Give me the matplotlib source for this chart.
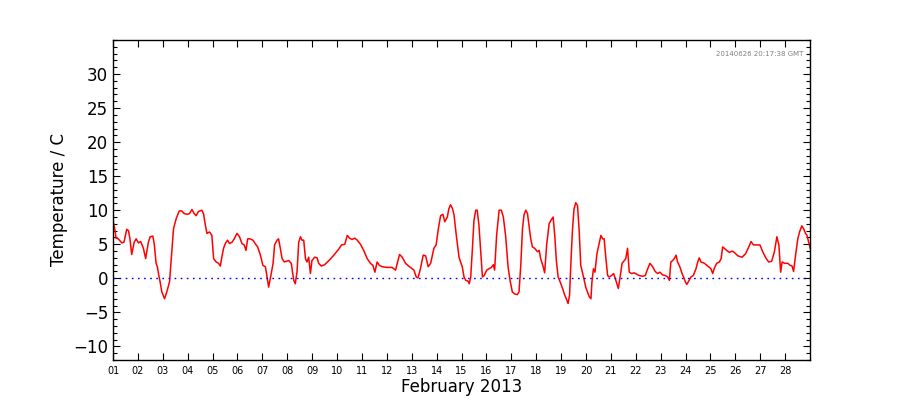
import datetime as dt
import numpy as np
import matplotlib
matplotlib.use("Agg")
import matplotlib.pyplot as plt
import matplotlib.dates as mdates
from matplotlib.ticker import MultipleLocator, FixedLocator

# fractional days since 2013-02-01 00:00 and temperature (C)
days = [0.01, 0.08, 0.12, 0.21, 0.35, 0.44, 0.55, 0.62, 0.68, 0.75, 0.85, 0.93,
        1.02, 1.11, 1.22, 1.31, 1.42, 1.49, 1.60, 1.66, 1.73, 1.78, 1.84, 1.89,
        1.96, 2.07, 2.16, 2.27, 2.33, 2.43, 2.54, 2.66, 2.76, 2.86, 2.99, 3.07,
        3.17, 3.26, 3.34, 3.43, 3.57, 3.64, 3.70, 3.77, 3.88, 3.97, 4.04, 4.14,
        4.24, 4.31, 4.37, 4.44, 4.51, 4.60, 4.68, 4.78, 4.87, 4.98, 5.08, 5.18,
        5.27, 5.34, 5.41, 5.49, 5.62, 5.71, 5.81, 5.92, 6.02, 6.12, 6.18, 6.25,
        6.34, 6.43, 6.49, 6.59, 6.65, 6.72, 6.79, 6.88,
        7.06, 7.16, 7.26, 7.32, 7.39, 7.46, 7.53, 7.59, 7.66, 7.73, 7.79, 7.86,
        7.93, 7.99, 8.10, 8.20, 8.26, 8.37, 8.50, 8.67, 8.87, 9.07, 9.18, 9.31,
        9.41, 9.50, 9.60, 9.71, 9.81, 9.94, 10.07, 10.21, 10.34, 10.44, 10.52,
        10.61, 10.70, 10.81, 11.01, 11.21, 11.35, 11.42, 11.51, 11.62, 11.75,
        11.91, 12.09, 12.18, 12.25, 12.35, 12.46, 12.56, 12.66, 12.76, 12.89,
        12.98, 13.07, 13.16, 13.25, 13.33, 13.43, 13.49, 13.56, 13.63, 13.70,
        13.79, 13.90,
        13.96, 14.03, 14.10, 14.17, 14.26, 14.31, 14.37, 14.43, 14.50, 14.57,
        14.63, 14.70, 14.77, 14.84, 14.91, 15.01, 15.10, 15.20, 15.28, 15.33,
        15.41, 15.51, 15.60, 15.68, 15.77, 15.87, 15.95, 16.04, 16.14, 16.24,
        16.31, 16.38, 16.45, 16.51, 16.58, 16.65, 16.71, 16.78, 16.85, 16.94,
        17.05, 17.12, 17.18, 17.28, 17.34, 17.42, 17.52, 17.59, 17.68, 17.75,
        17.81, 17.88, 17.96, 18.06, 18.15, 18.23, 18.28, 18.34, 18.39, 18.46,
        18.52, 18.59, 18.66, 18.73, 18.79, 18.90, 18.99, 19.13, 19.20, 19.24,
        19.30, 19.36, 19.44, 19.53, 19.60, 19.67, 19.73, 19.80, 19.87, 19.93,
        20.03, 20.11, 20.20, 20.30, 20.38, 20.45, 20.54, 20.60, 20.67, 20.74,
        20.83, 20.94,
        21.14, 21.27, 21.38, 21.48, 21.57, 21.68, 21.78, 21.88, 21.97, 22.08,
        22.19, 22.28, 22.35, 22.41, 22.48, 22.55, 22.62, 22.68, 22.77, 22.86,
        22.92, 22.99, 23.05, 23.13, 23.22, 23.31, 23.42, 23.49, 23.55, 23.62,
        23.76, 23.89, 24.02, 24.09, 24.16, 24.25, 24.36, 24.43, 24.49, 24.56,
        24.65, 24.76, 24.87, 24.96, 25.10, 25.27, 25.41, 25.54, 25.63, 25.73,
        25.86, 25.99, 26.10, 26.24, 26.34, 26.46, 26.57, 26.67, 26.75, 26.82,
        26.88, 26.98, 27.11, 27.20, 27.28, 27.34, 27.42, 27.51, 27.58, 27.67,
        27.74, 27.82, 27.88, 27.96, 28.04]

temps = [8.3, 7.0, 5.9, 5.8, 5.2, 5.3, 7.2, 7.0, 5.8, 3.5, 5.3, 5.8,
         5.2, 5.4, 4.4, 2.9, 5.3, 6.1, 6.2, 4.9, 2.2, 1.7, 0.4, -0.5,
         -2.0, -3.0, -2.0, -0.5, 2.4, 7.3, 8.8, 9.9, 9.9, 9.5, 9.4, 9.5,
         10.1, 9.5, 9.2, 9.8, 10.0, 9.4, 8.0, 6.6, 6.8, 6.3, 2.9, 2.4,
         2.2, 1.8, 3.1, 4.4, 5.1, 5.6, 5.1, 5.3, 5.8, 6.6, 6.1, 5.1,
         4.9, 4.1, 5.8, 5.8, 5.6, 5.1, 4.6, 3.4, 1.9, 1.7, 0.4, -1.3,
         0.4, 2.2, 4.9, 5.6, 5.8, 4.4, 2.9, 2.4,
         2.6, 2.2, -0.3, -0.8, 0.9, 5.3, 6.1, 5.6, 5.6, 2.9, 2.4, 3.1,
         0.7, 2.6, 3.1, 3.0, 2.2, 1.8, 2.0, 2.6, 3.4, 4.3, 4.9, 5.0,
         6.3, 5.9, 5.7, 5.9, 5.6, 5.0, 4.1, 2.9, 2.2, 1.9, 0.9,
         2.4, 1.9, 1.7, 1.6, 1.6, 1.2, 2.2, 3.5, 3.1, 2.2,
         1.7, 1.2, 0.2, 0.05, 1.4, 3.4, 3.3, 1.7, 2.2, 4.4,
         4.9, 7.3, 9.2, 9.4, 8.3, 9.0, 10.2, 10.8, 10.3, 9.3,
         6.3, 3.1,
         2.4, 1.7, 0.2, -0.3, -0.4, -0.8, 0.2, 3.9, 8.5, 10.0,
         10.0, 7.8, 3.9, 0.2, 0.4, 1.2, 1.4, 1.6, 2.0, 1.2,
         6.3, 10.0, 10.0, 9.0, 6.3, 1.7, -0.3, -2.0, -2.3, -2.4,
         -2.0, 1.9, 7.3, 9.3, 10.0, 9.5, 7.8, 5.8, 4.6, 4.4,
         3.9, 4.1, 2.9, 1.7, 0.8, 4.9, 8.0, 8.5, 9.0, 6.1,
         2.6, 0.2, -0.5, -1.5, -2.5, -3.2, -3.7, -2.5, 1.9, 7.3,
         10.2, 11.1, 10.7, 6.8, 1.9, 0.2, -1.3, -2.7, -3.0, -0.5,
         1.4, 0.9, 3.6, 5.1, 6.3, 5.8, 5.8, 2.9, 0.4, 0.2,
         0.4, 0.7, -0.3, -1.5, 0.4, 2.2, 2.6, 2.9, 4.4, 0.9,
         0.7, 0.8,
         0.4, 0.3, 0.4, 1.4, 2.2, 1.7, 1.0, 0.7, 0.9, 0.5,
         0.4, 0.2, -0.3, 2.4, 2.6, 2.9, 3.4, 2.4, 1.7, 0.7,
         0.2, -0.5, -0.9, -0.4, 0.2, 0.4, 1.4, 2.4, 3.0, 2.4,
         2.2, 1.8, 1.4, 0.7, 1.5, 2.2, 2.4, 2.9, 4.6, 4.4,
         4.1, 3.8, 4.0, 3.8, 3.3, 3.1, 3.6, 4.6, 5.4, 4.9,
         4.9, 4.9, 3.9, 2.9, 2.4, 2.5, 3.9, 6.1, 4.9, 0.9,
         2.4, 2.2, 2.2, 1.9, 1.8, 1.0, 3.4, 5.8, 6.8, 7.7,
         7.3, 6.6, 6.3, 5.1, 4.0]

y_ticks = [-10, -5, 0, 5, 10, 15, 20, 25, 30]
day_ticks = list(range(1, 29))

start = dt.datetime(2013, 2, 1)
end = dt.datetime(2013, 3, 1)
times = [start + dt.timedelta(days=d) for d in days]

plt.rcParams['font.family'] = ['DejaVu Sans']
fig = plt.figure(figsize=(9, 4), dpi=100)
ax = fig.add_axes([0.1256, 0.1, 0.7744, 0.8])

ax.plot(times, temps, color='red', linewidth=1.1)
ax.axhline(0, color='blue', linestyle=(0, (1.2, 3.2)), linewidth=1.0)

ax.set_xlim(start, end)
ax.set_ylim(-12, 35)
ax.set_xticks([dt.datetime(2013, 2, d) for d in day_ticks])
ax.xaxis.set_major_formatter(mdates.DateFormatter('%d'))
ax.set_yticks(y_ticks)
ax.yaxis.set_minor_locator(MultipleLocator(1))

ax.tick_params(axis='both', which='both', direction='in', top=True, right=True)
ax.tick_params(axis='both', which='major', length=5, width=0.8)
ax.tick_params(axis='y', which='minor', length=3, width=0.8)
ax.tick_params(axis='x', labelsize=7, pad=4)
ax.tick_params(axis='y', labelsize=12)
for s in ax.spines.values():
    s.set_linewidth(1.0)

ax.set_ylabel('Temperature / C', fontsize=12)
ax.set_xlabel('February 2013', fontsize=12, labelpad=2)
ax.text(0.99, 0.955, '20140626 20:17:38 GMT', transform=ax.transAxes,
        ha='right', va='center', fontsize=5, color='gray')

fig.savefig('out.png', dpi=100)
